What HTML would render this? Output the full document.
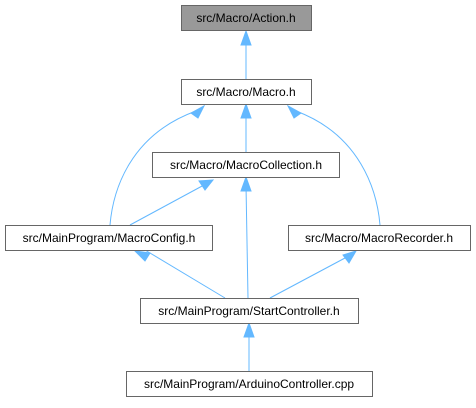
<!DOCTYPE html><html><head><style>body{margin:0;background:#fff}</style></head><body>
<svg width="476" height="403" xmlns="http://www.w3.org/2000/svg" font-family="Liberation Sans, sans-serif" font-size="12">
<g fill="none" stroke="#63b8ff" stroke-width="1">
<path d="M246 79V40"/>
<path d="M246 152V113"/>
<path d="M110 225C113 190 130 135 196 111"/>
<path d="M380 225C377 190 360 135 296 111"/>
<path d="M130 225L204 185"/>
<path d="M248 298L246 185"/>
<path d="M145 250L225 298"/>
<path d="M345 258L270 298"/>
<path d="M249 371V332"/>
</g>
<g fill="#63b8ff" stroke="#63b8ff">
<path d="M246 31L241 45H251Z"/>
<path d="M246 104L241 118H251Z"/>
<path d="M204 106L191 113L198 118Z"/>
<path d="M288 106L301 113L294 118Z"/>
<path d="M213 180L199 181L205 190Z"/>
<path d="M246 177L241 191H251Z"/>
<path d="M135 251L145 261L150 253Z"/>
<path d="M356 251L343 255L349 263Z"/>
<path d="M249 323L244 337H254Z"/>
</g>
<g stroke="#666" stroke-width="1">
<rect x="181.5" y="5.5" width="130" height="25" fill="#999"/>
<rect x="181.5" y="79.5" width="130" height="25" fill="#fff"/>
<rect x="152.5" y="152.5" width="187" height="25" fill="#fff"/>
<rect x="5.5" y="225.5" width="207" height="25" fill="#fff"/>
<rect x="288.5" y="225.5" width="182" height="25" fill="#fff"/>
<rect x="140.5" y="298.5" width="218" height="25" fill="#fff"/>
<rect x="126.5" y="371.5" width="246" height="25" fill="#fff"/>
</g>
<g text-anchor="middle" fill="#000">
<text x="246" y="22">src/Macro/Action.h</text>
<text x="246" y="96">src/Macro/Macro.h</text>
<text x="246" y="169">src/Macro/MacroCollection.h</text>
<text x="109" y="242">src/MainProgram/MacroConfig.h</text>
<text x="379" y="242">src/Macro/MacroRecorder.h</text>
<text x="249" y="315">src/MainProgram/StartController.h</text>
<text x="249" y="388">src/MainProgram/ArduinoController.cpp</text>
</g>
</svg></body></html>
